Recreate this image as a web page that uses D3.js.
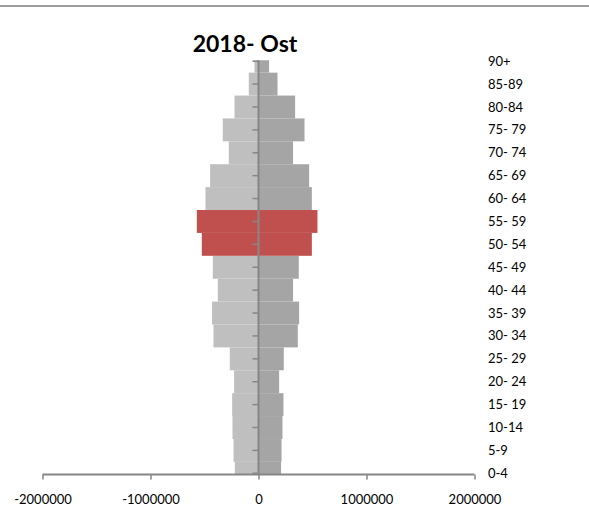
<!DOCTYPE html>
<html><head><meta charset="utf-8">
<script src="https://cdn.jsdelivr.net/npm/d3@7"></script>
<style>body{margin:0;background:#fff}svg{display:block}</style>
</head><body>
<svg id="c" width="589" height="520"></svg>
<script>
const title = "2018- Ost";
const ageGroups = ["0-4","5-9","10-14","15- 19","20- 24","25- 29","30- 34","35- 39","40- 44","45- 49","50- 54","55- 59","60- 64","65- 69","70- 74","75- 79","80-84","85-89","90+"];
const leftValues  = [219000,231000,241000,244000,226000,266000,417000,430000,377000,423000,525000,571000,491000,448000,275000,331000,222000,90000,37000];
const rightValues = [209000,213000,222000,231000,191000,234000,364000,376000,320000,373000,494000,546000,494000,469000,320000,426000,339000,176000,98000];
const highlighted = ["50- 54","55- 59"];
const xTicks = [-2000000,-1000000,0,1000000,2000000];

const svg = d3.select("#c");
const font = "Lato, 'Open Sans', sans-serif";

svg.append("line").attr("x1",0).attr("x2",589).attr("y1",6).attr("y2",6)
  .attr("stroke","#9c9c9c").attr("stroke-width",2);

const x = d3.scaleLinear().domain([-2000000,2000000]).range([42.5,474.5]);
const y = d3.scalePoint().domain(ageGroups).range([473.3,61.2]);
const step = y.step();
const plotTop = 60.3, plotBottom = 474.5;

svg.append("defs").append("clipPath").attr("id","pc")
  .append("rect").attr("x",0).attr("y",plotTop).attr("width",589).attr("height",plotBottom-plotTop);

const g = svg.append("g").attr("clip-path","url(#pc)");
const rows = ageGroups.map((a,i)=>({a, l:leftValues[i], r:rightValues[i]}));

g.selectAll("rect.l").data(rows).join("rect").attr("class","l")
  .attr("x",d=>x(-d.l)).attr("width",d=>x(0)-x(-d.l))
  .attr("y",d=>y(d.a)-step/2).attr("height",step)
  .attr("fill",d=>highlighted.includes(d.a)?"#c0504d":"#bfbfbf");
g.selectAll("rect.r").data(rows).join("rect").attr("class","r")
  .attr("x",x(0)).attr("width",d=>x(d.r)-x(0))
  .attr("y",d=>y(d.a)-step/2).attr("height",step)
  .attr("fill",d=>highlighted.includes(d.a)?"#c0504d":"#a5a5a5");

const axisColor = "#868686";
svg.append("line").attr("x1",x(0)).attr("x2",x(0)).attr("y1",plotTop).attr("y2",plotBottom)
  .attr("stroke",axisColor).attr("stroke-width",2);
svg.selectAll("line.yt").data(ageGroups).join("line").attr("class","yt")
  .attr("x1",x(0)-6).attr("x2",x(0)).attr("y1",d=>y(d)).attr("y2",d=>y(d))
  .attr("stroke",axisColor).attr("stroke-width",1.5);

svg.selectAll("text.yl").data(ageGroups).join("text").attr("class","yl")
  .attr("x",488).attr("y",d=>y(d)).attr("dy","0.35em")
  .attr("font-family",font).attr("font-size",13).attr("fill","#000")
  .text(d=>d);

const xa = svg.append("g").attr("transform",`translate(0,${plotBottom})`)
  .call(d3.axisBottom(x).tickValues(xTicks).tickSize(5).tickPadding(15).tickFormat(d3.format("d")));
xa.select(".domain").attr("stroke",axisColor).attr("stroke-width",2).attr("d",`M${x(-2000000)},0H${x(2000000)}`);
xa.selectAll(".tick line").attr("stroke",axisColor).attr("stroke-width",1.5);
xa.selectAll(".tick text").attr("font-family",font).attr("font-size",13).attr("fill","#000")
  .text(d=>d<0?"-"+Math.abs(d):String(d));

svg.append("text").attr("x",245).attr("y",52).attr("text-anchor","middle")
  .attr("font-family",font).attr("font-weight","bold").attr("font-size",23).attr("fill","#000")
  .text(title);
</script>
</body></html>
